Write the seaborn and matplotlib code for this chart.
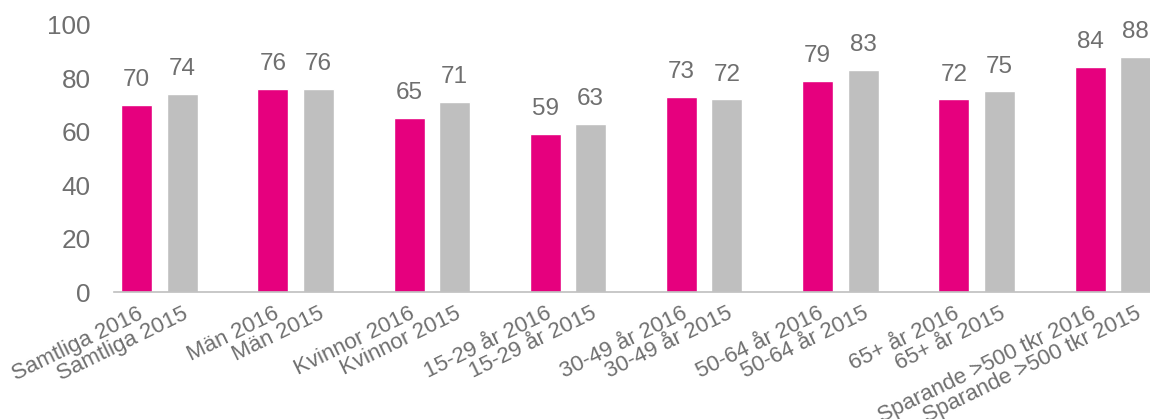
import pandas as pd
import matplotlib
matplotlib.use('Agg')
import matplotlib.pyplot as plt
import seaborn as sns

groups = ['Samtliga', 'Män', 'Kvinnor', '15-29 år', '30-49 år', '50-64 år', '65+ år', 'Sparande >500 tkr']
values_2016 = [70, 76, 65, 59, 73, 79, 72, 84]
values_2015 = [74, 76, 71, 63, 72, 83, 75, 88]
years = ['2016', '2015']
colors = {'2016': '#E6007E', '2015': '#BFBFBF'}
text_grey = '#6F6F6F'

rows = []
order = []
for i, g in enumerate(groups):
    for y, vals in zip(years, [values_2016, values_2015]):
        lab = f'{g} {y}'
        rows.append({'label': lab, 'year': y, 'value': vals[i]})
        order.append(lab)
    order.append(' ' * (i + 1))  # empty slot between groups
df = pd.DataFrame(rows)

sns.set_style('white')
plt.rcParams['font.family'] = ['Liberation Sans', 'DejaVu Sans']

fig = plt.figure(figsize=(11.5, 4.19), dpi=100)
ax = fig.add_axes([114 / 1150, 127 / 419, 1036 / 1150, 292 / 419])

sns.barplot(data=df, x='label', y='value', hue='year', order=order,
            palette=colors, dodge=False, width=0.68, saturation=1,
            legend=False, ax=ax)

for c in ax.containers:
    ax.bar_label(c, fmt='%d', padding=10, fontsize=17.5, color=text_grey)

ax.set_yticks([0, 20, 40, 60, 80, 100])
ax.tick_params(axis='y', length=0, labelsize=18.8, labelcolor=text_grey, pad=17)

ax.set_xticks(range(len(order)))
ax.set_xticklabels([o if o.strip() else '' for o in order], rotation=26,
                   ha='right', va='top', rotation_mode='anchor',
                   fontsize=16, color=text_grey)
ax.tick_params(axis='x', which='major', length=0, pad=8)
ax.set_xticks([k - 0.5 for k in range(len(order) + 1)], minor=True)
ax.tick_params(axis='x', which='minor', length=5, width=1.2, color='#BFBFBF', direction='out')

ax.set_ylim(0, 109.2)
ax.set_xlim(-0.5, 22.32)

for s in ['top', 'right', 'left']:
    ax.spines[s].set_visible(False)
ax.spines['bottom'].set_color('#BFBFBF')
ax.spines['bottom'].set_linewidth(1.2)
ax.set_xlabel('')
ax.set_ylabel('')
for lab in ax.get_xticklabels():
    lab.set_clip_on(False)

fig.savefig('out.png', dpi=100)
